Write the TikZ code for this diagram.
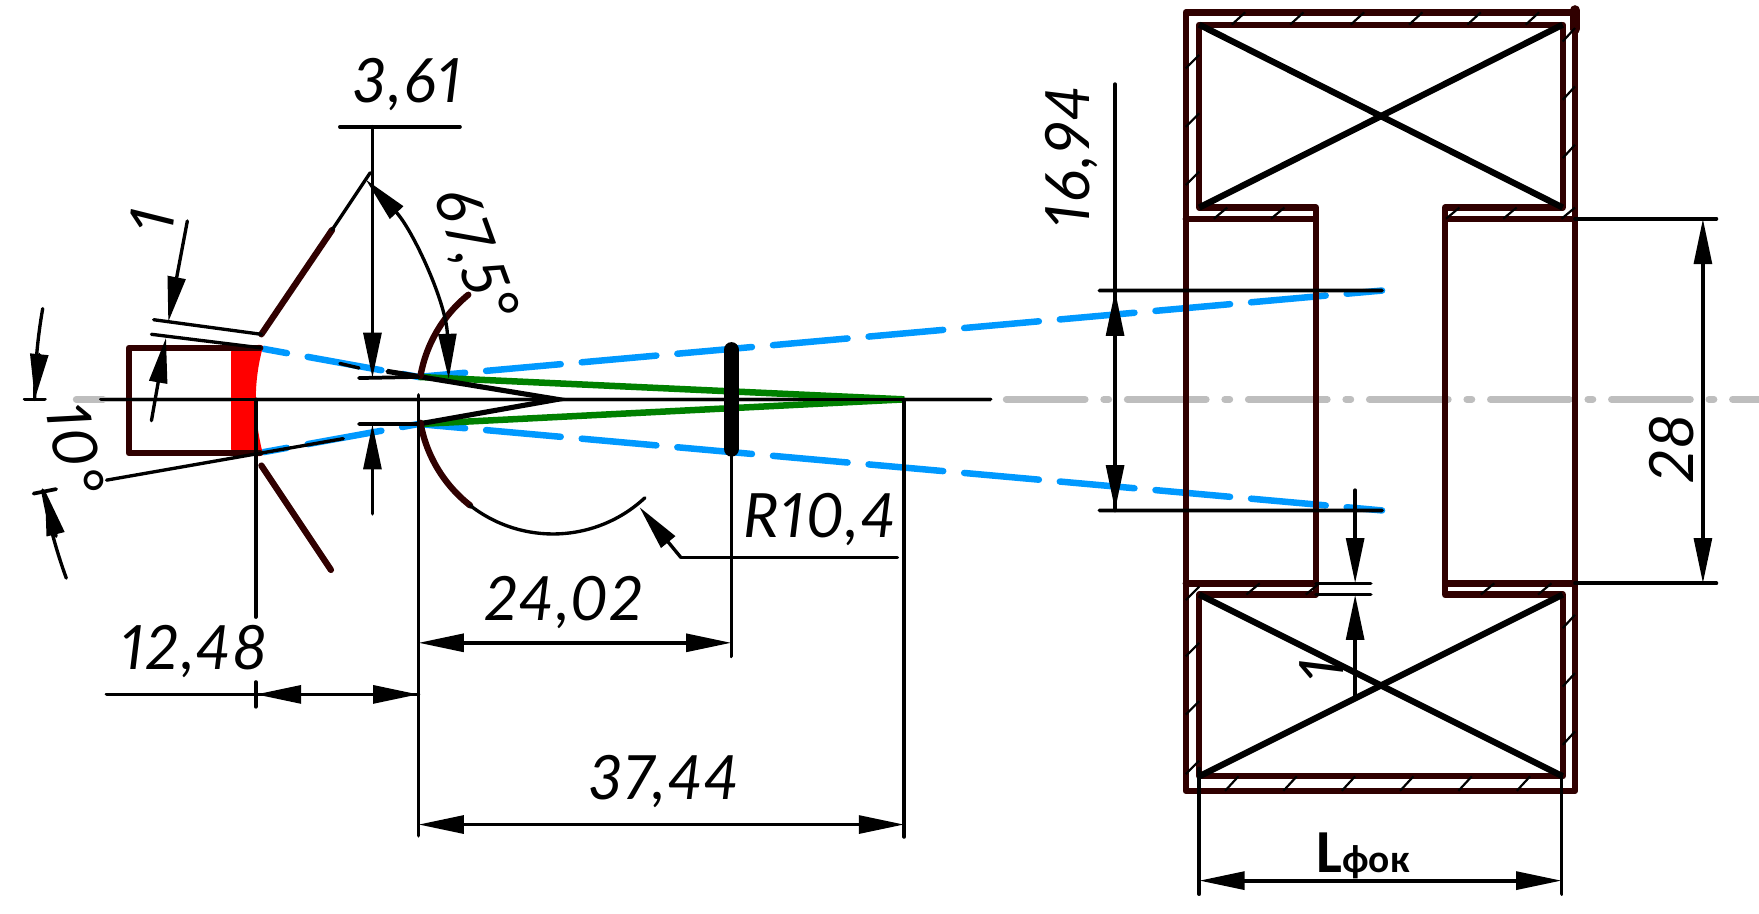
\documentclass[tikz,border=0pt]{standalone}
\usepackage{fontspec}
\newfontfamily\dimfont{Lato}[Numbers=Proportional,LetterSpace=4]
\newfontfamily\lblfont{Carlito}
\usetikzlibrary{calc}
\usetikzlibrary{arrows.meta}
\definecolor{maroon}{RGB}{48,0,0}
\definecolor{beam}{RGB}{0,153,255}
\definecolor{ray}{RGB}{0,128,0}
\definecolor{axisgray}{RGB}{190,190,190}
\tikzset{
  dimtip/.tip={Triangle[length=23pt,width=9pt]},
  thinline/.style={line width=1.7pt,black,line cap=round},
  dimline/.style={thinline,line width=1.9pt},
  outline/.style={line width=3.2pt,maroon,line join=round,line cap=round},
  crossline/.style={line width=3.2pt,black},
  hatchline/.style={line width=1.1pt,black},
  beamline/.style={line width=3.3pt,beam,line cap=round},
  rayline/.style={line width=3.3pt,ray},
  dimtext/.style={font=\dimfont\itshape\fontsize{31}{31}\selectfont,inner sep=0pt},
}
\begin{document}
\begin{tikzpicture}[x=1mm,y=1mm,scale=0.2,yscale=-1]%
\useasboundingbox (0,0) rectangle (1568,813.87);%
\coordinate (apex) at (497,356);%
\coordinate (ctr) at (493,356);%
\coordinate (uptip) at (373,336);%
\coordinate (lowtip) at (373,378);%
\coordinate (focus) at (806,356);%
\coordinate (farup) at (1232,259);%
\coordinate (farlow) at (1232,455);%
% centre line
\draw[line width=3.5pt,axisgray,dash pattern=on 40pt off 9.45pt on 2.5pt off 9.45pt,line cap=round] (897,356) -- (1568,356);%
\draw[line width=3.5pt,axisgray,line cap=round] (68,356) -- (92,356);%
\draw[line width=2.5pt,axisgray] (92,356) -- (883,356);%
% beams
\draw[beamline,dash pattern=on 38pt off 10.7pt,dash phase=20pt] (farup) -- (uptip);%
\draw[beamline,dash pattern=on 38pt off 10.7pt,dash phase=20pt] (farlow) -- (lowtip);%
\draw[beamline,dash pattern=on 38pt off 10.7pt,dash phase=26pt] (235,311) -- (uptip);%
\draw[beamline,dash pattern=on 38pt off 10.7pt,dash phase=26pt] (235,403) -- (lowtip);%
\draw[rayline] (uptip) -- (focus);%
\draw[rayline] (lowtip) -- (focus);%
% cone
\draw[line width=2.6pt,black] (345,331) -- (apex) -- (lowtip);%
\fill[red,rounded corners=2pt] (206,310) -- (235,307) .. controls (226,340) and (226,372) .. (235,407) -- (206,404) -- cycle;%
\draw[outline] (232,310) -- (115,310) -- (115,404) -- (232,404);%
\draw[outline] (233,298) -- (296,205);%
\draw[outline] (233,415) -- (295,508);%
\draw[thinline] (296,205) -- (330,154);%
\draw[outline] ($(ctr)+(190:120)$) arc (190:231:120mm);%
\draw[outline] ($(ctr)+(170:120)$) arc (170:128:120mm);%
\draw[thinline] ($(ctr)+(128:120)$) arc (128:47:120mm);%
\draw[line width=8pt,black,line cap=round] (652,312) -- (652,400);%
\draw[dimline] (90,356) -- (883,356);%
% solenoid
\draw[outline] (1057,11) rectangle (1404,705);%
\draw[outline] (1057,195) -- (1173,195) -- (1173,520) -- (1057,520);%
\draw[outline] (1404,195) -- (1288,195) -- (1288,520) -- (1404,520);%
\draw[outline] (1173,195) -- (1173,185) -- (1069,185) -- (1069,22) -- (1393,22) -- (1393,185) -- (1288,185) -- (1288,195);%
\draw[outline] (1173,520) -- (1173,530) -- (1069,530) -- (1069,692) -- (1393,692) -- (1393,530) -- (1288,530) -- (1288,520);%
\draw[line width=5pt,maroon,line cap=round] (1404,9) -- (1404,26);%
\draw[crossline] (1069,22) -- (1393,185);%
\draw[crossline] (1393,22) -- (1069,185);%
\draw[crossline] (1069,530) -- (1393,692);%
\draw[crossline] (1393,530) -- (1069,692);%
\foreach \x in {1104,1156,1210,1262,1314,1366} \draw[hatchline] (\x-6,22) -- (\x+6,11);%
\foreach \x in {1098,1150,1202,1254,1306,1358} \draw[hatchline] (\x-6,705) -- (\x+6,692);%
\foreach \x in {1088,1139,1295,1346,1398} \draw[hatchline] (\x-6,195) -- (\x+6,185);%
\foreach \x in {1117,1170,1326,1377} \draw[hatchline] (\x-6,530) -- (\x+6,520);%
\foreach \y in {61,113,165} \draw[hatchline] (1057,\y) -- (1069,\y-12);%
\foreach \y in {37,89,141} \draw[hatchline] (1393,\y) -- (1404,\y-12);%
\foreach \y in {535,585,637,690} \draw[hatchline] (1057,\y) -- (1069,\y-12);%
\foreach \y in {560,612,664} \draw[hatchline] (1393,\y) -- (1404,\y-12);%
% dimensions
\draw[dimline] (303,113) -- (410,113);%
\draw[dimline,-{dimtip}] (332,113) -- (332,337);%
\draw[dimline,-{dimtip}] (332,458) -- (332,378);%
\draw[dimline] (320,337) -- (uptip);%
\draw[dimline] (320,378) -- (lowtip);%
\draw[thinline,{dimtip}-{dimtip}] (326,160) .. controls (368,205) and (398,270) .. (400,338);%
\draw[thinline,-{dimtip}] (167,197) -- (150,287);%
\draw[thinline,-{dimtip}] (135,375) -- (148,301);%
\draw[thinline] (137,285) -- (233,298);%
\draw[thinline] (135,298) -- (232,310);%
\draw[thinline] (303,324) -- (320,328);%
\draw[thinline] (345,331) -- (373,336);%
\draw[thinline] (95,428) -- (306,391);%
\draw[thinline] ($(apex)+(190:466)$) arc (190:180:466mm);%
\draw[thinline] ($(apex)+(160:466)$) arc (160:170:466mm);%
\draw[thinline,-{dimtip}] (35,316) -- (31,356);%
\draw[thinline,-{dimtip}] (50,478) -- (40,437);%
\draw[dimline] (22,356) -- (40,356);%
\draw[dimline] (30,440) -- (50,436);%
\draw[dimline] (228,356) -- (228,550);%
\draw[dimline] (228,608) -- (228,630);%
\draw[dimline] (95,619) -- (373,619);%
\draw[dimline,-{dimtip}] (300,619) -- (228,619);%
\draw[dimline,-{dimtip}] (300,619) -- (373,619);%
\draw[dimline] (373,352) -- (373,745);%
\draw[dimline] (652,405) -- (652,585);%
\draw[dimline] (806,356) -- (806,746);%
\draw[dimline,{dimtip}-{dimtip}] (373,573) -- (652,573);%
\draw[dimline,{dimtip}-{dimtip}] (373,735) -- (806,735);%
\draw[thinline,-{dimtip}] (607,497) -- (570,452);%
\draw[thinline] (607,497) -- (800,497);%
\draw[dimline] (994,75) -- (994,455);%
\draw[dimline,-{dimtip}] (994,340) -- (994,259);%
\draw[dimline,-{dimtip}] (994,375) -- (994,455);%
\draw[dimline] (980,259) -- (farup);%
\draw[dimline] (980,455) -- (farlow);%
\draw[dimline,{dimtip}-{dimtip}] (1518,195) -- (1518,520);%
\draw[dimline] (1404,195) -- (1530,195);%
\draw[dimline] (1404,520) -- (1530,520);%
\draw[dimline,-{dimtip}] (1208,437) -- (1208,520);%
\draw[dimline,-{dimtip}] (1208,621) -- (1208,530);%
\draw[thinline] (1173,520) -- (1222,520);%
\draw[thinline] (1173,530) -- (1222,530);%
\draw[dimline] (1069,685) -- (1069,797);%
\draw[dimline] (1392,690) -- (1392,797);%
\draw[dimline,{dimtip}-{dimtip}] (1069,785) -- (1392,785);%
% labels
\node[dimtext] (lblgap) at (363,75) {3,61};%
\node[dimtext,rotate=-70] (lblangle) at (422,227) {67,5°};%
\node[dimtext,rotate=83] (lblwall) at (136,197) {1};%
\node[dimtext,rotate=-80] (lbltilt) at (67,400) {10°};%
\node[dimtext] (lblradius) at (730,463) {R10,4};%
\node[dimtext] (lblmid) at (503,537) {24,02};%
\node[dimtext] (lblfront) at (173,581) {12,48};%
\node[dimtext] (lbllong) at (592,697) {37,44};%
\node[dimtext,rotate=90] (lblbeam) at (955,140) {16,94};%
\node[dimtext,rotate=90] (lblbore) at (1490,400) {28};%
\node[dimtext,rotate=90] (lblstep) at (1178,597) {1};%
\node[inner sep=0pt] (lblfoc) at (1215,763) {\lblfont\bfseries\fontsize{31}{31}\selectfont L\fontsize{20}{20}\selectfont фок};%
\end{tikzpicture}
\end{document}
